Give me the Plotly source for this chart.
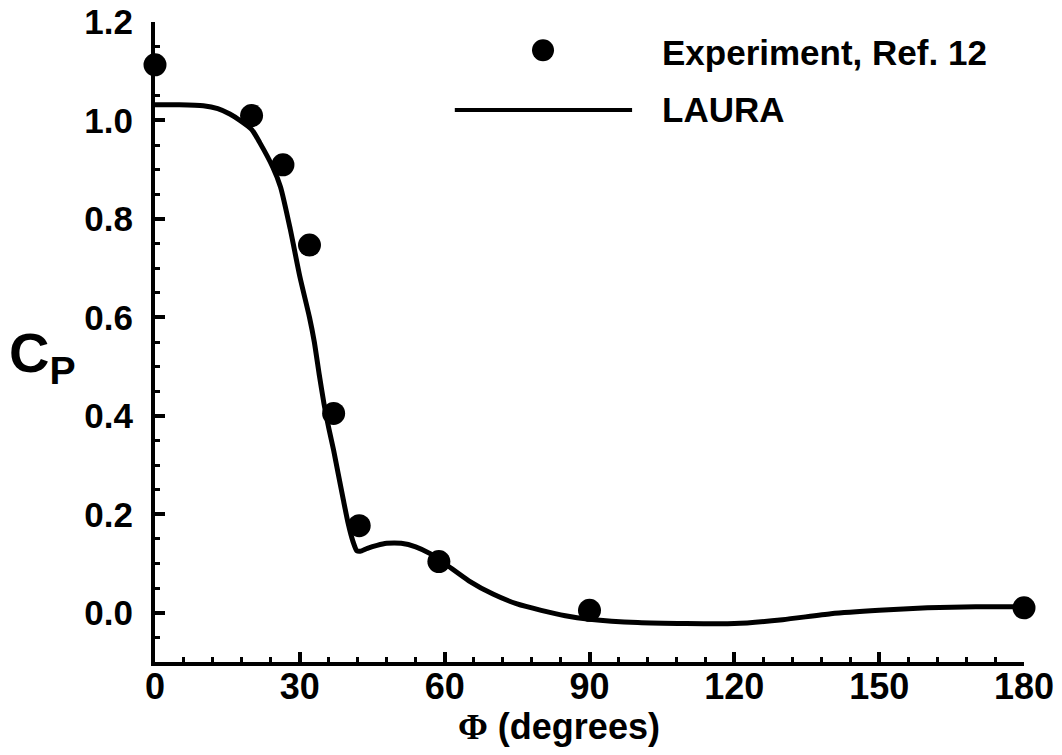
import plotly.graph_objects as go

# Experimental data (Ref. 12)
exp_phi = [0, 20, 26.5, 32, 37, 42.3, 58.8, 90, 180]
exp_cp = [1.113, 1.01, 0.91, 0.747, 0.405, 0.177, 0.104, 0.005, 0.01]

# LAURA computation
laura_phi = [0, 5, 10, 13, 15.5, 17.6, 20, 21.7, 24.4, 26, 28, 30, 32, 33, 34, 35, 36,
             37, 38, 39, 40, 41, 41.8, 42.5, 44, 46, 48, 51, 54, 57, 60, 65, 70, 75,
             80, 85, 90, 100, 110, 120, 130, 140, 150, 160, 170, 180]
laura_cp = [1.032, 1.032, 1.030, 1.024, 1.013, 1.0, 0.982, 0.955, 0.905, 0.865, 0.78,
            0.683, 0.6, 0.55, 0.485, 0.425, 0.375, 0.33, 0.28, 0.23, 0.182, 0.145,
            0.126, 0.125, 0.131, 0.137, 0.141, 0.141, 0.134, 0.12, 0.1, 0.065, 0.038,
            0.018, 0.005, -0.006, -0.013, -0.02, -0.022, -0.022, -0.014, -0.002,
            0.005, 0.01, 0.012, 0.012]

x_ticks = [0, 30, 60, 90, 120, 150, 180]
y_ticks = [0.0, 0.2, 0.4, 0.6, 0.8, 1.0, 1.2]

FONT = "Liberation Sans, Arial, Helvetica, sans-serif"
BLACK = "#000000"

fig = go.Figure()
fig.add_trace(go.Scatter(x=laura_phi, y=laura_cp, mode="lines",
                         line=dict(color=BLACK, width=5, shape="spline", smoothing=0.6),
                         cliponaxis=False, showlegend=False))
fig.add_trace(go.Scatter(x=exp_phi, y=exp_cp, mode="markers",
                         marker=dict(color=BLACK, size=23, line=dict(width=0)),
                         cliponaxis=False, showlegend=False))

# Manual legend
fig.add_shape(type="circle", xref="paper", yref="paper",
              x0=0.4465 - 11/869, x1=0.4465 + 11/869,
              y0=0.956 - 11/640, y1=0.956 + 11/640,
              fillcolor=BLACK, line=dict(width=0))
fig.add_shape(type="line", xref="paper", yref="paper",
              x0=0.345, x1=0.549, y0=0.8625, y1=0.8625,
              line=dict(color=BLACK, width=4))
fig.add_annotation(xref="paper", yref="paper", x=0.581, y=0.953,
                   xanchor="left", yanchor="middle", showarrow=False,
                   text="Experiment, Ref. 12",
                   font=dict(family=FONT, size=35, color=BLACK, weight="bold"))
fig.add_annotation(xref="paper", yref="paper", x=0.581, y=0.8625,
                   xanchor="left", yanchor="middle", showarrow=False,
                   text="LAURA",
                   font=dict(family=FONT, size=35, color=BLACK, weight="bold"))

# Axis titles
fig.add_annotation(xref="paper", yref="paper", x=0.465, y=-0.101,
                   xanchor="center", yanchor="middle", showarrow=False,
                   text="<span style='font-family:Liberation Serif'>Φ</span> (degrees)",
                   font=dict(family=FONT, size=36, color=BLACK, weight="bold"))
fig.add_annotation(xref="paper", yref="paper", x=-0.130, y=0.478,
                   xanchor="center", yanchor="middle", showarrow=False,
                   text="C<sub>P</sub>",
                   font=dict(family=FONT, size=56, color=BLACK, weight="bold"))

# the page body adds an 8 px margin, so the figure is 8 px smaller on each side
fig.update_layout(
    width=1054, height=747,
    margin=dict(l=147, r=38, t=14, b=93, autoexpand=False),
    paper_bgcolor="white", plot_bgcolor="white",
    font=dict(family=FONT, color=BLACK, weight="bold"),
    xaxis=dict(range=[0, 180], tickvals=x_ticks, ticktext=[str(v) for v in x_ticks],
               showgrid=False, zeroline=False, showline=True, linecolor=BLACK,
               linewidth=4, ticks="inside", ticklen=10, tickwidth=3.5, tickcolor=BLACK,
               tickfont=dict(family=FONT, size=36, color=BLACK, weight="bold"),
               ticklabelstandoff=-10, automargin=False, ticklabeloverflow="allow",
               minor=dict(ticks="inside", ticklen=5, tickwidth=3, dtick=6, tick0=0,
                          tickcolor=BLACK, showgrid=False),
               fixedrange=True),
    yaxis=dict(range=[-0.1, 1.2], tickvals=y_ticks,
               ticktext=[f"{v:.1f}" for v in y_ticks],
               showgrid=False, zeroline=False, showline=True, linecolor=BLACK,
               linewidth=4, ticks="inside", ticklen=10, tickwidth=3.5, tickcolor=BLACK,
               tickfont=dict(family=FONT, size=35, color=BLACK, weight="bold"),
               ticklabelstandoff=11, automargin=False, ticklabeloverflow="allow",
               minor=dict(ticks="inside", ticklen=5, tickwidth=3, dtick=0.05, tick0=0,
                          tickcolor=BLACK, showgrid=False),
               fixedrange=True),
)

fig.write_html("out.html")
